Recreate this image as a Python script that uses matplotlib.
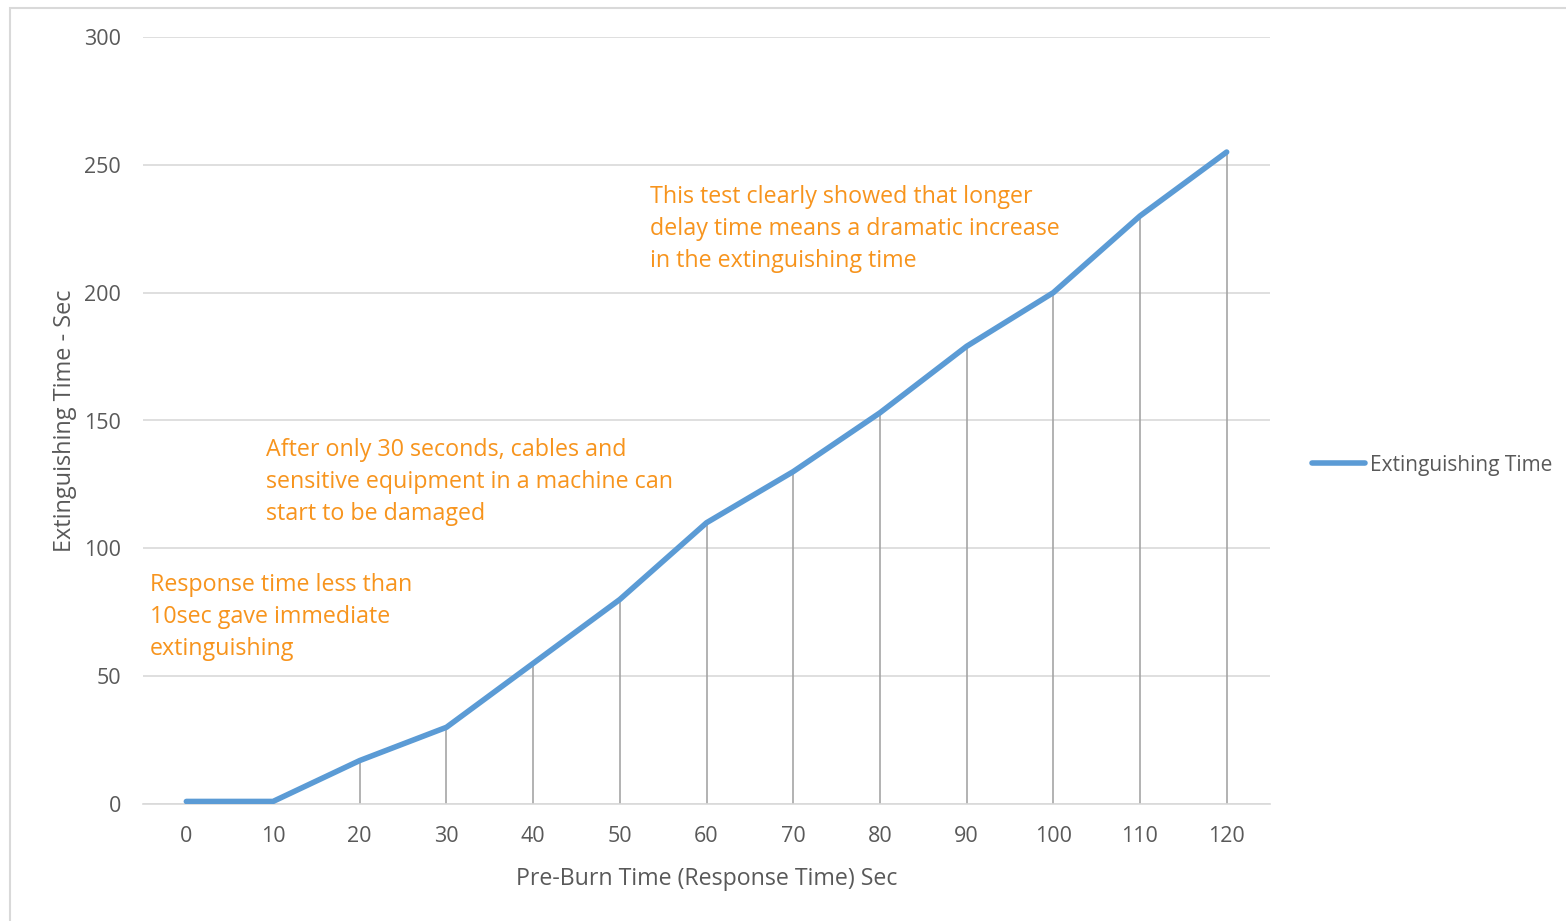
import matplotlib.pyplot as plt
from matplotlib.patches import Rectangle

# Data
pre_burn = ['0', '10', '20', '30', '40', '50', '60', '70', '80', '90', '100', '110', '120']
ext_time = [1, 1, 17, 30, 55, 80, 110, 130, 153, 179, 200, 230, 255]

plt.rcParams['font.family'] = ['Open Sans', 'DejaVu Sans']

txt_col = '#595959'
orange = '#F7941D'
blue = '#5B9BD5'

fig = plt.figure(figsize=(15.66, 9.21), dpi=100)
ax = fig.add_axes([143 / 1566, (921 - 804) / 921, (1270 - 143) / 1566, (804 - 37) / 921])

# outer chart frame
fig.patches.append(Rectangle((10 / 1566, -0.1), 1.2, (921 - 8) / 921 + 0.1,
                             transform=fig.transFigure, fill=False,
                             edgecolor='#D9D9D9', linewidth=1.5))

x = list(range(len(pre_burn)))

# drop lines
ax.vlines(x, 0, ext_time, color='#A5A5A5', linewidth=1.2, zorder=2)
ax.plot(x, ext_time, color=blue, linewidth=4, solid_capstyle='round',
        solid_joinstyle='round', label='Extinguishing Time', zorder=3)

ax.set_xlim(-0.5, len(pre_burn) - 0.5)
ax.set_ylim(0, 300)
ax.set_yticks(range(0, 301, 50))
ax.set_xticks(x)
ax.set_xticklabels(pre_burn)
ax.grid(axis='y', color='#D9D9D9', linewidth=1.2, zorder=0)
ax.set_axisbelow(True)
for s in ['top', 'right', 'left']:
    ax.spines[s].set_visible(False)
ax.spines['bottom'].set_color('#D9D9D9')
ax.spines['bottom'].set_linewidth(1.2)
ax.tick_params(axis='both', length=0, labelsize=15.5, labelcolor=txt_col)
ax.tick_params(axis='y', pad=16)
ax.tick_params(axis='x', pad=16)

ax.set_xlabel('Pre-Burn Time (Response Time) Sec', fontsize=16.7, color=txt_col, labelpad=14)
ax.set_ylabel('Extinguishing Time - Sec', fontsize=16.9, color=txt_col, labelpad=5)

ax.text(-0.42, 90.3, 'Response time less than\n10sec gave immediate\nextinguishing',
        fontsize=16.75, color=orange, va='top', linespacing=1.45)
ax.text(0.92, 143.1, 'After only 30 seconds, cables and\nsensitive equipment in a machine can\nstart to be damaged',
        fontsize=16.75, color=orange, va='top', linespacing=1.45)
ax.text(5.35, 242, 'This test clearly showed that longer\ndelay time means a dramatic increase\nin the extinguishing time',
        fontsize=16.75, color=orange, va='top', linespacing=1.45)

leg = fig.legend(loc='center left', bbox_to_anchor=(1293 / 1566, (921 - 465) / 921),
                 frameon=False, fontsize=15, handlelength=2.56, handletextpad=0.25)
for t in leg.get_texts():
    t.set_color(txt_col)

fig.savefig('out.png', dpi=100)
